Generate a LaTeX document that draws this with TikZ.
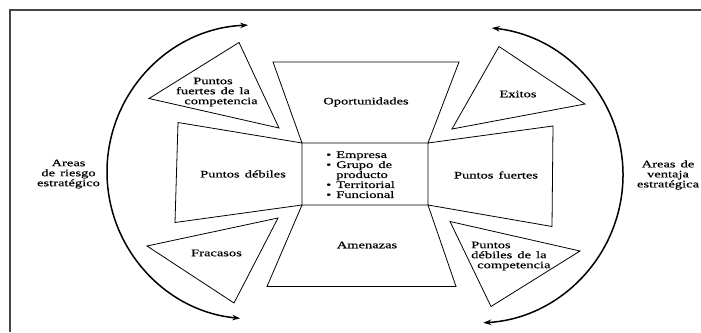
\documentclass[tikz,border=0pt]{standalone}
\usepackage{fontspec}
\setmainfont{Liberation Serif}[FakeStretch=1.45,WordSpace=1.4,FakeBold=0.6]
\usetikzlibrary{arrows.meta}
\begin{document}
\begin{tikzpicture}[x=1pt,y=1pt,
    shapeline/.style={draw=black,line width=0.8pt,line join=miter},
    arcline/.style={draw=black,line width=1.5pt,{Stealth[length=8pt,width=5.5pt]}-{Stealth[length=8pt,width=5.5pt]}},
    lbl/.style={font=\fontsize{10}{10}\selectfont,inner sep=0pt,align=center},
    frameline/.style={draw=black!72,line width=2pt}]
  \useasboundingbox (0,0) rectangle (701,332);
  \fill[white] (0,0) rectangle (701,332);

  % frame edges
  \draw[frameline] (10,0) -- (10,322) -- (701,322);

  % central box corners (its edges are shared by the four trapezoids)
  \coordinate (cTL) at (302,189);
  \coordinate (cTR) at (428,189);
  \coordinate (cBL) at (302,127);
  \coordinate (cBR) at (428,127);

  % the four trapezoids around the centre
  \draw[shapeline] (273,270) -- (459,270) -- (cTR) -- (cTL) -- cycle;
  \draw[shapeline] (cBL) -- (cBR) -- (456,45.5) -- (267,45.5) -- cycle;
  \draw[shapeline] (178,209.5) -- (cTL) -- (cBL) -- (175,109.5) -- cycle;
  \draw[shapeline] (cTR) -- (553,206) -- (552,105.5) -- (cBR) -- cycle;

  % corner triangles
  \draw[shapeline] (239,289.5) -- (149,233.5) -- (279,204) -- cycle;
  \draw[shapeline] (499,285.5) -- (585,228) -- (452,203) -- cycle;
  \draw[shapeline] (278,114) -- (147,86) -- (234,29) -- cycle;
  \draw[shapeline] (450,110.5) -- (580,81) -- (491,25.5) -- cycle;

  % outer arcs with double arrows
  \draw[arcline] (254,160) ++(92.3:147) arc[start angle=92.3,end angle=264.6,radius=147];
  \draw[arcline] (475,157) ++(83.5:148) arc[start angle=83.5,end angle=-86.8,radius=148];

  % labels
  \node[lbl] (oport) at (366,230) {Oportunidades};
  \node[lbl] (amen) at (367,87) {Amenazas};
  \node[lbl] (pdeb) at (243,158) {Puntos débiles};
  \node[lbl] (pfue) at (496,157) {Puntos fuertes};
  \node[lbl] (exit) at (518,238) {Exitos};
  \node[lbl] (frac) at (216.5,79) {Fracasos};
  \node[lbl] (pfc) at (213,240) {Puntos\\fuertes de la\\\hspace*{16pt}competencia};
  \node[lbl,align=left,anchor=west] (pdc) at (471,76) {Puntos\\débiles de la\\\hspace*{6pt}competencia};
  \node[lbl] (riesgo) at (68.5,158) {Areas\\de riesgo\\estratégico};
  \node[lbl] (ventaja) at (668,157) {Areas de\\ventaja\\estratégica};
  \node[lbl,anchor=west] (lista) at (326,156) {%
    \begin{tabular}{@{}c@{\hspace{5pt}}l@{}}
      \textbullet & Empresa\\
      \textbullet & Grupo de\\
                  & producto\\
      \textbullet & Territorial\\
      \textbullet & Funcional
    \end{tabular}};
\end{tikzpicture}
\end{document}
